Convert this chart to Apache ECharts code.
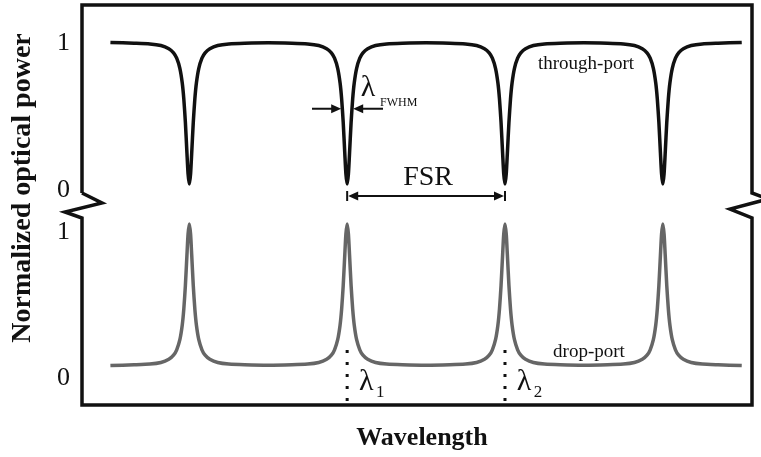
<!DOCTYPE html>
<html>
<head>
<meta charset="utf-8">
<script src="https://cdn.jsdelivr.net/npm/echarts@6/dist/echarts.min.js"></script>
<style>
  html, body { margin: 0; padding: 0; background: #fff; }
  #chart { width: 761px; height: 457px; }
</style>
</head>
<body>
<div id="chart"></div>
<script>
// Ring resonator transmission: through-port dips and drop-port peaks
// sampled along a normalized wavelength axis (resonances at 10, 20, 30, 40).
const wavelength = [
  5, 6.5, 7.5, 8.2, 8.7, 9.0, 9.2, 9.4, 9.55, 9.65, 9.75, 9.85, 9.92,
  10, 10.08, 10.15, 10.25, 10.35, 10.45, 10.6, 10.8, 11.0, 11.3, 11.8, 12.5, 13.5,
  15, 16.5, 17.5, 18.2, 18.7, 19.0, 19.2, 19.4, 19.55, 19.65, 19.75, 19.85, 19.92,
  20, 20.08, 20.15, 20.25, 20.35, 20.45, 20.6, 20.8, 21.0, 21.3, 21.8, 22.5, 23.5,
  25, 26.5, 27.5, 28.2, 28.7, 29.0, 29.2, 29.4, 29.55, 29.65, 29.75, 29.85, 29.92,
  30, 30.08, 30.15, 30.25, 30.35, 30.45, 30.6, 30.8, 31.0, 31.3, 31.8, 32.5, 33.5,
  35, 36.5, 37.5, 38.2, 38.7, 39.0, 39.2, 39.4, 39.55, 39.65, 39.75, 39.85, 39.92,
  40, 40.08, 40.15, 40.25, 40.35, 40.45, 40.6, 40.8, 41.0, 41.3, 41.8, 42.5, 43.5,
  45
];

const throughPort = [
  0.997, 0.991, 0.986, 0.975, 0.953, 0.924, 0.886, 0.815, 0.713, 0.600, 0.434, 0.216, 0.072,
  0.000, 0.072, 0.216, 0.434, 0.600, 0.713, 0.815, 0.886, 0.924, 0.953, 0.975, 0.986, 0.991,
  0.994, 0.991, 0.986, 0.975, 0.953, 0.924, 0.886, 0.815, 0.713, 0.600, 0.434, 0.216, 0.072,
  0.000, 0.072, 0.216, 0.434, 0.600, 0.713, 0.815, 0.886, 0.924, 0.953, 0.975, 0.986, 0.991,
  0.994, 0.991, 0.986, 0.975, 0.953, 0.924, 0.886, 0.815, 0.713, 0.600, 0.434, 0.216, 0.072,
  0.000, 0.072, 0.216, 0.434, 0.600, 0.713, 0.815, 0.886, 0.924, 0.953, 0.975, 0.986, 0.991,
  0.994, 0.991, 0.986, 0.975, 0.953, 0.924, 0.886, 0.815, 0.713, 0.600, 0.434, 0.216, 0.072,
  0.000, 0.072, 0.216, 0.434, 0.600, 0.713, 0.815, 0.886, 0.924, 0.953, 0.975, 0.986, 0.991,
  0.997
];

const dropPort = [
  0.003, 0.009, 0.014, 0.025, 0.047, 0.076, 0.114, 0.185, 0.287, 0.400, 0.566, 0.784, 0.928,
  1.000, 0.928, 0.784, 0.566, 0.400, 0.287, 0.185, 0.114, 0.076, 0.047, 0.025, 0.014, 0.009,
  0.006, 0.009, 0.014, 0.025, 0.047, 0.076, 0.114, 0.185, 0.287, 0.400, 0.566, 0.784, 0.928,
  1.000, 0.928, 0.784, 0.566, 0.400, 0.287, 0.185, 0.114, 0.076, 0.047, 0.025, 0.014, 0.009,
  0.006, 0.009, 0.014, 0.025, 0.047, 0.076, 0.114, 0.185, 0.287, 0.400, 0.566, 0.784, 0.928,
  1.000, 0.928, 0.784, 0.566, 0.400, 0.287, 0.185, 0.114, 0.076, 0.047, 0.025, 0.014, 0.009,
  0.006, 0.009, 0.014, 0.025, 0.047, 0.076, 0.114, 0.185, 0.287, 0.400, 0.566, 0.784, 0.928,
  1.000, 0.928, 0.784, 0.566, 0.400, 0.287, 0.185, 0.114, 0.076, 0.047, 0.025, 0.014, 0.009,
  0.003
];

const powerTicks = ['0', '1'];
const lambda1 = 20;       // marked resonance
const lambda2 = 30;       // next resonance (one FSR later)
const fwhm = 0.57;        // full width at half maximum
const halfLevel = 0.53;   // level where the FWHM arrows sit

const SERIF = '"Liberation Serif", "DejaVu Serif", serif';
const INK = '#111';

const chart = echarts.init(document.getElementById('chart'), null, { renderer: 'canvas' });

function tickLabel(offsetOne, offsetZero) {
  return {
    margin: 12,
    color: INK,
    fontFamily: SERIF,
    fontSize: 26,
    formatter: v => v === 1 ? '{one|' + powerTicks[1] + '}' : '{zero|' + powerTicks[0] + '}',
    rich: {
      one: { fontFamily: SERIF, fontSize: 26, color: INK, padding: [offsetOne, 0, 0, 0] },
      zero: { fontFamily: SERIF, fontSize: 26, color: INK, padding: [offsetZero, 0, 0, 0] }
    }
  };
}

const hiddenX = {
  type: 'value', min: 3.2, max: 45.65,
  axisLine: { show: false }, axisTick: { show: false },
  axisLabel: { show: false }, splitLine: { show: false }
};
const baseY = {
  type: 'value', min: 0, max: 1, interval: 1,
  axisLine: { show: false }, axisTick: { show: false }, splitLine: { show: false }
};

chart.setOption({
  animation: false,
  backgroundColor: '#fff',
  grid: [
    { left: 82, right: 9, top: 42, height: 142 },
    { left: 82, right: 9, top: 224, height: 142 }
  ],
  xAxis: [
    Object.assign({ gridIndex: 0 }, hiddenX),
    Object.assign({ gridIndex: 1 }, hiddenX)
  ],
  yAxis: [
    Object.assign({ gridIndex: 0, axisLabel: tickLabel(2, 12) }, baseY),
    Object.assign({ gridIndex: 1, axisLabel: tickLabel(16, 24) }, baseY)
  ],
  series: [
    {
      name: 'through-port', type: 'line', xAxisIndex: 0, yAxisIndex: 0,
      data: wavelength.map((w, i) => [w, throughPort[i]]),
      showSymbol: false, clip: false, smooth: 0.2,
      lineStyle: { color: INK, width: 3.5, join: 'round' }
    },
    {
      name: 'drop-port', type: 'line', xAxisIndex: 1, yAxisIndex: 1,
      data: wavelength.map((w, i) => [w, dropPort[i]]),
      showSymbol: false, clip: false, smooth: 0.2,
      lineStyle: { color: '#666', width: 3.5, join: 'round' }
    }
  ]
});

// Annotation overlay anchored to the resonances through the axes
const px = (x, y, g) => chart.convertToPixel({ gridIndex: g }, [x, y]);
const x1 = px(lambda1, 0, 0)[0];
const x2 = px(lambda2, 0, 0)[0];
const xL = px(lambda1 - fwhm / 2, 0, 0)[0];
const xR = px(lambda1 + fwhm / 2, 0, 0)[0];
const yHalf = px(lambda1, halfLevel, 0)[1];

function arrowHead(tx, ty, dir) {
  return {
    type: 'polygon',
    shape: { points: [[tx, ty], [tx - dir * 10, ty - 4.5], [tx - dir * 10, ty + 4.5]] },
    style: { fill: INK }
  };
}
function line(x1_, y1_, x2_, y2_, extra) {
  return {
    type: 'line',
    shape: { x1: x1_, y1: y1_, x2: x2_, y2: y2_ },
    style: Object.assign({ stroke: INK, lineWidth: 2 }, extra || {})
  };
}
function text(str, x, y, size, opts) {
  return {
    type: 'text', x, y,
    style: Object.assign({
      text: str, fontFamily: SERIF, fontSize: size, fill: INK,
      align: 'center', verticalAlign: 'middle'
    }, opts || {})
  };
}

const yFsr = 196;
const graphics = [
  // broken-axis frame
  {
    type: 'polyline',
    shape: { points: [[82, 193], [82, 5], [752, 5], [752, 193], [768, 199], [730, 209],
                      [752, 218], [752, 405], [82, 405], [82, 218], [65, 212], [102, 203], [82, 193]] },
    style: { stroke: INK, lineWidth: 3.5, fill: null, lineJoin: 'miter' }
  },
  // axis titles
  Object.assign(text('Normalized optical power', 23, 188, 28, { fontWeight: 'bold' }), { rotation: Math.PI / 2 }),
  text('Wavelength', 422, 438, 26, { fontWeight: 'bold' }),
  // port names
  text('through-port', 586, 64, 19),
  text('drop-port', 589, 352, 19),
  // FWHM marker
  line(312, yHalf, xL - 6, yHalf),
  arrowHead(xL - 1.5, yHalf, 1),
  line(xR + 6, yHalf, 383, yHalf),
  arrowHead(xR + 1.5, yHalf, -1),
  text('λ', 368, 88, 30),
  text('FWHM', 380, 103, 12, { align: 'left' }),
  // FSR marker
  line(x1, yFsr - 5, x1, yFsr + 5),
  line(x2, yFsr - 5, x2, yFsr + 5),
  line(x1 + 6, yFsr, x2 - 6, yFsr),
  arrowHead(x1 + 1, yFsr, -1),
  arrowHead(x2 - 1, yFsr, 1),
  text('FSR', (x1 + x2) / 2 + 2, 178, 28),
  // resonance markers
  line(x1, 350, x1, 404, { lineWidth: 3, lineDash: [3, 9], stroke: INK }),
  line(x2, 350, x2, 404, { lineWidth: 3, lineDash: [3, 9], stroke: INK }),
  text('λ', x1 + 19, 382, 30),
  text('1', x1 + 33, 393, 17),
  text('λ', x2 + 19, 382, 30),
  text('2', x2 + 33, 393, 17)
];

chart.setOption({ graphic: graphics });
</script>
</body>
</html>
